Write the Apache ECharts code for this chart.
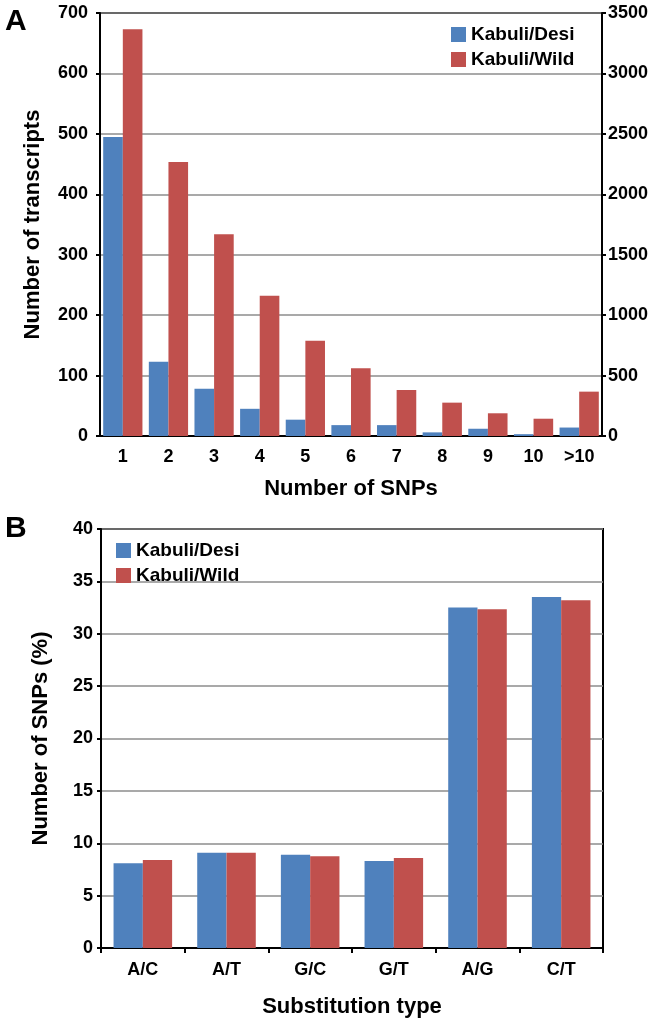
<!DOCTYPE html>
<html>
<head>
<meta charset="utf-8">
<script src="https://cdn.jsdelivr.net/npm/echarts@6/dist/echarts.min.js"></script>
<style>
html,body{margin:0;padding:0;background:#fff;}
#chart{width:656px;height:1024px;}
</style>
</head>
<body>
<div id="chart"></div>
<script>
// Panel A data
var snpCategories = ['1','2','3','4','5','6','7','8','9','10','>10'];
var kabuliDesiA = [495, 123, 78, 45, 27, 18, 18, 6, 12, 3, 14];
var kabuliWildA = [3365, 2268, 1669, 1160, 788, 561, 381, 276, 188, 143, 367];

// Panel B data
var substitutionTypes = ['A/C','A/T','G/C','G/T','A/G','C/T'];
var kabuliDesiB = [8.1, 9.1, 8.9, 8.3, 32.5, 33.5];
var kabuliWildB = [8.4, 9.1, 8.75, 8.6, 32.35, 33.2];

var FONT = 'Liberation Sans, Arial, Helvetica, sans-serif';
var BLUE = '#4F81BD';
var RED = '#C0504D';
var GRID = '#8c8c8c';

var lbl = {color:'#000', fontFamily:FONT, fontWeight:'bold', fontSize:18};
var legLbl = {color:'#000', fontFamily:FONT, fontWeight:'bold', fontSize:19};
var nameSt = {color:'#000', fontFamily:FONT, fontWeight:'bold', fontSize:22};
var axLine = {show:true, lineStyle:{color:'#000', width:2}};
function plain(v){ return String(v); }

var chart = echarts.init(document.getElementById('chart'), null, {renderer:'canvas'});
chart.setOption({
  backgroundColor:'#fff',
  animation:false,
  title:[
    {text:'A', left:0, top:2, textStyle:{fontFamily:FONT, fontWeight:'bold', fontSize:30, color:'#000'}},
    {text:'B', left:0, top:509, textStyle:{fontFamily:FONT, fontWeight:'bold', fontSize:30, color:'#000'}}
  ],
  legend:[
    {data:['Kabuli/Desi','Kabuli/Wild'], orient:'vertical', left:451, top:25, padding:0,
     itemWidth:15, itemHeight:15, itemGap:6, icon:'rect', textStyle:legLbl,
     selectedMode:false},
    {data:[{name:'Kabuli/Desi '},{name:'Kabuli/Wild '}], orient:'vertical', left:116, top:541, padding:0,
     itemWidth:15, itemHeight:15, itemGap:6, icon:'rect', textStyle:legLbl,
     selectedMode:false,
     formatter:function(n){return n.trim();}}
  ],
  grid:[
    {left:100, right:54, top:13, height:423, show:true, borderColor:'#000', borderWidth:2},
    {left:101, right:53, top:529, height:419, show:true, borderColor:'#000', borderWidth:2}
  ],
  xAxis:[
    {type:'category', gridIndex:0, data:snpCategories,
     axisLine:axLine, axisTick:{show:false},
     axisLabel:Object.assign({margin:12}, lbl),
     name:'Number of SNPs', nameLocation:'middle', nameGap:42, nameTextStyle:nameSt},
    {type:'category', gridIndex:1, data:substitutionTypes,
     axisLine:axLine, axisTick:{show:true, length:5, lineStyle:{color:'#000', width:2}},
     axisLabel:Object.assign({margin:13}, lbl),
     name:'Substitution type', nameLocation:'middle', nameGap:48, nameTextStyle:nameSt}
  ],
  yAxis:[
    {type:'value', gridIndex:0, min:0, max:700, interval:100, position:'left',
     axisLine:axLine, axisTick:{show:true, length:4, lineStyle:{color:'#000', width:2}},
     axisLabel:Object.assign({margin:12, formatter:plain}, lbl),
     splitLine:{show:true, lineStyle:{color:GRID, width:1.5}},
     name:'Number of transcripts', nameLocation:'middle', nameGap:56, nameTextStyle:nameSt},
    {type:'value', gridIndex:0, min:0, max:3500, interval:500, position:'right',
     axisLine:axLine, axisTick:{show:true, length:4, lineStyle:{color:'#000', width:2}},
     axisLabel:Object.assign({margin:6, formatter:plain}, lbl),
     splitLine:{show:false}},
    {type:'value', gridIndex:1, min:0, max:40, interval:5, position:'left',
     axisLine:axLine, axisTick:{show:true, length:4, lineStyle:{color:'#000', width:2}},
     axisLabel:Object.assign({margin:8, formatter:plain}, lbl),
     splitLine:{show:true, lineStyle:{color:GRID, width:1.5}},
     name:'Number of SNPs (%)', nameLocation:'middle', nameGap:49, nameTextStyle:nameSt}
  ],
  series:[
    {name:'Kabuli/Desi', type:'bar', xAxisIndex:0, yAxisIndex:0, data:kabuliDesiA,
     itemStyle:{color:BLUE}, barGap:'0%', barCategoryGap:'14%'},
    {name:'Kabuli/Wild', type:'bar', xAxisIndex:0, yAxisIndex:1, data:kabuliWildA,
     itemStyle:{color:RED}, barGap:'0%', barCategoryGap:'14%'},
    {name:'Kabuli/Desi ', type:'bar', xAxisIndex:1, yAxisIndex:2, data:kabuliDesiB,
     itemStyle:{color:BLUE}, barGap:'0%', barCategoryGap:'30%'},
    {name:'Kabuli/Wild ', type:'bar', xAxisIndex:1, yAxisIndex:2, data:kabuliWildB,
     itemStyle:{color:RED}, barGap:'0%', barCategoryGap:'30%'}
  ]
});
</script>
</body>
</html>
